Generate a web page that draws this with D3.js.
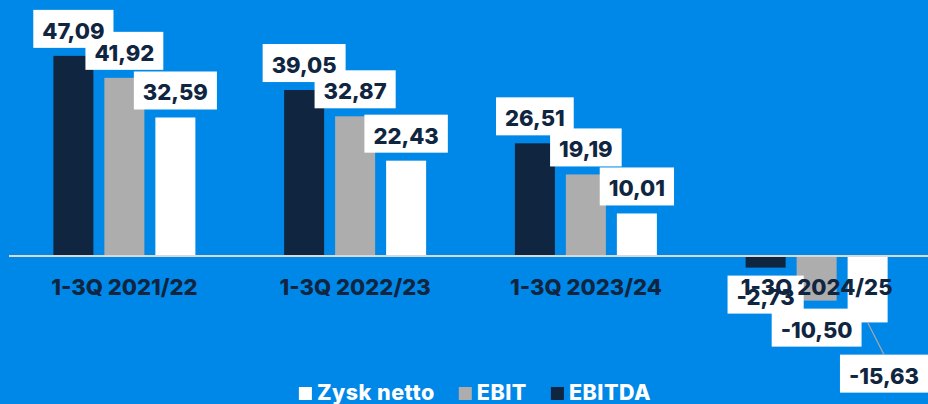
<!DOCTYPE html>
<html>
<head>
<meta charset="utf-8">
<script src="https://cdn.jsdelivr.net/npm/d3@7"></script>
<style>
	html, body { margin: 0; padding: 0; background: #0088e9; }
	svg { display: block; font-family: Inter, 'Open Sans', sans-serif; }
</style>
</head>
<body>
<svg id="chart" width="928" height="404"></svg>
<script>
const periods = ['1-3Q 2021/22', '1-3Q 2022/23', '1-3Q 2023/24', '1-3Q 2024/25'];
const series = ['EBITDA', 'EBIT', 'Zysk netto'];
const ebitda = [47.09, 39.05, 26.51, -2.73];
const ebit = [41.92, 32.87, 19.19, -10.5];
const zysk = [32.59, 22.43, 10.01, -15.63];
const colors = ['#10253f', '#adadad', '#ffffff'];
const legendOrder = ['Zysk netto', 'EBIT', 'EBITDA'];

const W = 928, H = 404;
const NAVY = '#10253f';

const svg = d3.select('#chart');

const rows = [];
[ebitda, ebit, zysk].forEach((vals, si) => {
	vals.forEach((v, pi) => rows.push({ period: periods[pi], key: series[si], value: v, si }));
});

const x0 = d3.scaleBand().domain(periods).range([9, 932]);
// inner band: 40px bars on a 51px step
const x1 = d3.scaleBand().domain(series).range([-71, 71]).paddingInner(11 / 51);
const y = d3.scaleLinear().domain([-20, 50]).range([341, 43.5]);

const loc = d3.formatLocale({ decimal: ',', thousands: ' ', grouping: [3], currency: ['', ''], minus: '-' });
const fmt = loc.format('.2f');

const barX = (d) => x0(d.period) + x0.bandwidth() / 2 + x1(d.key);

// bars
svg.append('g')
	.selectAll('rect')
	.data(rows)
	.join('rect')
	.attr('x', barX)
	.attr('width', x1.bandwidth())
	.attr('y', (d) => y(Math.max(0, d.value)))
	.attr('height', (d) => Math.abs(y(d.value) - y(0)))
	.attr('fill', (d) => colors[d.si]);

// zero line
svg.append('line')
	.attr('x1', 9).attr('x2', W)
	.attr('y1', y(0)).attr('y2', y(0))
	.attr('stroke', '#d9d9d9')
	.attr('stroke-width', 2);

// value labels: boxes, leader lines, then category labels and texts on top
const boxG = svg.append('g');
const lineG = svg.append('g');
const catG = svg.append('g');
const textG = svg.append('g');

catG.selectAll('text')
	.data(periods)
	.join('text')
	.attr('x', (p) => x0(p) + x0.bandwidth() / 2)
	.attr('y', y(0) + 38.5)
	.attr('text-anchor', 'middle')
	.attr('font-size', 22)
	.attr('font-weight', 800)
	.attr('fill', NAVY)
	.text((p) => p);

const texts = textG.selectAll('text')
	.data(rows)
	.join('text')
	.attr('text-anchor', 'middle')
	.attr('font-size', 22)
	.attr('font-weight', 800)
	.attr('fill', NAVY)
	.text((d) => fmt(d.value));

const BOX_H = 38, PAD = 9, GAP = 8;
const placed = [];
texts.each(function (d) {
	const tw = this.getComputedTextLength();
	const w = tw + PAD * 2;
	const cx = barX(d) + x1.bandwidth() / 2;
	const box = {
		x: cx - w / 2,
		y: d.value >= 0 ? y(d.value) - GAP - BOX_H : y(d.value) + GAP,
		w, h: BOX_H,
	};
	let moved = false;
	// push a negative label down and aside when it clearly collides with an earlier one
	placed.forEach((b) => {
		const ox = Math.min(box.x + box.w, b.x + b.w) - Math.max(box.x, b.x);
		const oy = Math.min(box.y + box.h, b.y + b.h) - Math.max(box.y, b.y);
		if (d.value < 0 && ox > 6 && oy > 6) {
			box.y = b.y + b.h + GAP;
			box.x = Math.min(box.x + x1.bandwidth() / 2, W - box.w);
			moved = true;
		}
	});
	placed.push(box);
	d.box = box;
	d.moved = moved;
	d3.select(this)
		.attr('x', box.x + box.w / 2)
		.attr('y', box.y + 29);
});

boxG.selectAll('rect')
	.data(rows)
	.join('rect')
	.attr('x', (d) => d.box.x)
	.attr('y', (d) => d.box.y)
	.attr('width', (d) => d.box.w)
	.attr('height', (d) => d.box.h)
	.attr('fill', '#ffffff');

lineG.selectAll('line')
	.data(rows.filter((d) => d.moved))
	.join('line')
	.attr('x1', (d) => barX(d) + x1.bandwidth() / 2)
	.attr('y1', (d) => y(d.value))
	.attr('x2', (d) => d.box.x + d.box.w / 2)
	.attr('y2', (d) => d.box.y)
	.attr('stroke', '#a6a6a6')
	.attr('stroke-width', 1.2);

// legend
const legend = svg.append('g');
const items = legend.selectAll('g')
	.data(legendOrder)
	.join('g');
items.append('rect')
	.attr('width', 13)
	.attr('height', 13)
	.attr('y', -12.5)
	.attr('fill', (k) => colors[series.indexOf(k)]);
items.append('text')
	.attr('x', 18)
	.attr('font-size', 21.5)
	.attr('font-weight', 800)
	.attr('letter-spacing', 0.5)
	.attr('fill', '#ffffff')
	.text((k) => k);

let lx = 0;
items.each(function () {
	d3.select(this).attr('transform', `translate(${lx},0)`);
	lx += this.getBBox().width + 24;
});
const total = lx - 24;
legend.attr('transform', `translate(${475 - total / 2},399.5)`);
</script>
</body>
</html>
